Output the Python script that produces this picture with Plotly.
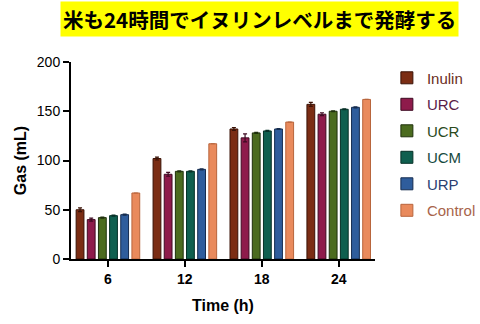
import plotly.graph_objects as go

title_text = "米も24時間でイヌリンレベルまで発酵する"
time_labels = ["6", "12", "18", "24"]
series_names = ["Inulin", "URC", "UCR", "UCM", "URP", "Control"]
inulin = [50, 102, 132, 157]
urc = [40, 86, 123, 147]
ucr = [42, 89, 128, 150]
ucm = [44, 89, 130, 152]
urp = [45, 91, 132, 154]
control = [67, 117, 139, 162]
inulin_err = [2, 1.5, 1.5, 2]
urc_err = [1.5, 2, 4, 1.5]
ucr_err = [0.5, 0.5, 0.5, 0.5]
ucm_err = [0.5, 0.5, 0.5, 0.5]
urp_err = [0.5, 0.5, 0.5, 0.5]
control_err = [0, 0, 0, 0]

values = [inulin, urc, ucr, ucm, urp, control]
errors = [inulin_err, urc_err, ucr_err, ucm_err, urp_err, control_err]
fills = ["#7b2d14", "#8e1b4b", "#4b6b1f", "#0f5f4f", "#2f5d9c", "#e98a5c"]
lines = ["#3a1206", "#3e0a22", "#1f300c", "#063027", "#152c4f", "#b8653c"]
text_cols = ["#6a2d1c", "#5a1b48", "#2b4a1c", "#164a40", "#2b3e70", "#a8644a"]

fig = go.Figure()
for i, name in enumerate(series_names):
    fig.add_trace(go.Bar(
        x=time_labels, y=values[i],
        name=f"<span style='color:{text_cols[i]}'>{name}</span>",
        legendgroup=name,
        marker=dict(color=fills[i], line=dict(color=lines[i], width=1)),
        error_y=dict(type="data", array=errors[i], visible=True,
                     color=lines[i], thickness=1.2, width=2),
    ))

fig.update_layout(
    width=480, height=324,
    margin=dict(l=71, r=105, t=62, b=58),
    paper_bgcolor="white", plot_bgcolor="white",
    barmode="group", bargap=0.13, bargroupgap=0.3,
    font=dict(family="Liberation Sans, Arial", color="black"),
    legend=dict(x=0.806, xanchor="left", y=0.81, yanchor="top",
                xref="container", yref="container",
                font=dict(size=15, family="Liberation Sans, Arial"),
                tracegroupgap=4, traceorder="grouped",
                itemwidth=30, bgcolor="rgba(0,0,0,0)", borderwidth=0),
    annotations=[dict(
        text=f"<b>{title_text}</b>", xref="paper", yref="paper",
        x=0.62, y=1.0, yanchor="bottom", xanchor="center",
        yshift=25, showarrow=False, bgcolor="#ffff00",
        borderpad=2,
        font=dict(size=20.5, family="Noto Sans CJK JP", color="black"),
    )],
)
fig.update_xaxes(
    type="category", range=[-0.48, 3.47],
    showline=True, linecolor="black", linewidth=2,
    ticks="outside", ticklen=6, tickwidth=2, tickcolor="black",
    tickfont=dict(size=14, family="Liberation Sans, Arial"),
    tickprefix="<b>", ticksuffix="</b>",
    title=dict(text="<b>Time (h)</b>", font=dict(size=16), standoff=14),
    showgrid=False, zeroline=False,
)
fig.update_yaxes(
    range=[0, 200], tickvals=[0, 50, 100, 150, 200],
    showline=True, linecolor="black", linewidth=2,
    ticks="outside", ticklen=6, tickwidth=2, tickcolor="black",
    tickfont=dict(size=14, family="Liberation Sans, Arial"),
    tickprefix="<b>", ticksuffix="</b>",
    title=dict(text="<b>Gas (mL)</b>", font=dict(size=16), standoff=6),
    showgrid=False, zeroline=False,
)
fig.write_html("out.html")
